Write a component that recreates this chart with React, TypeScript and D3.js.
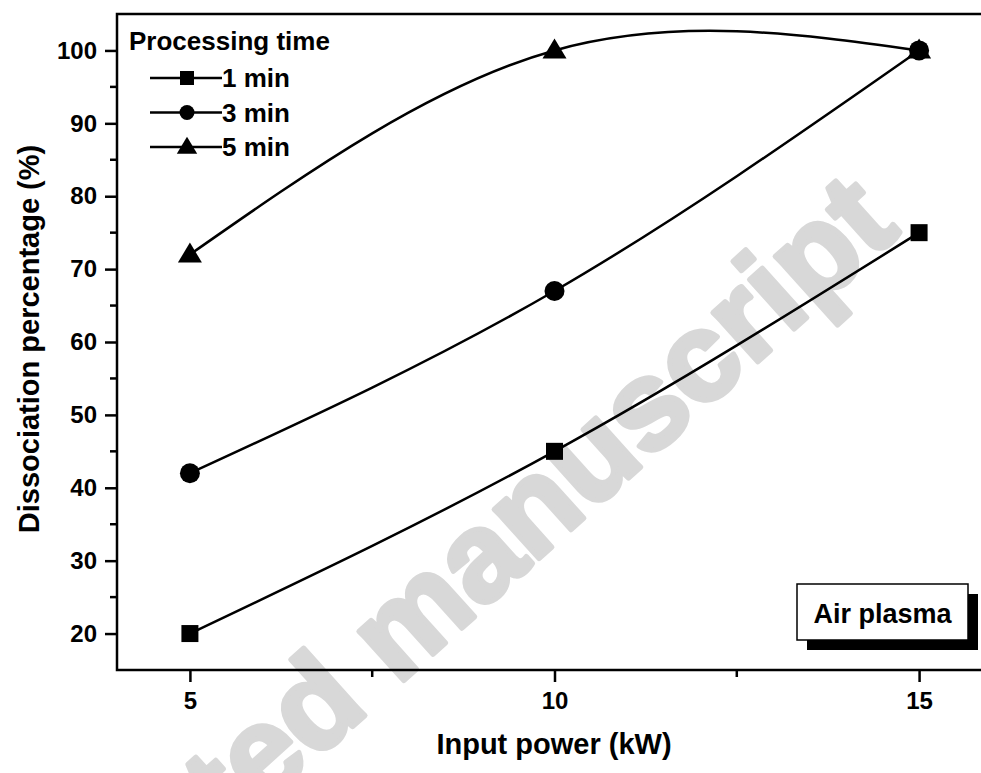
import React, { useRef, useEffect } from "react";
import * as d3 from "d3";

const powers = [5, 10, 15];
const seriesNames = ["1 min", "3 min", "5 min"];
const min1 = [20, 45, 75];
const min3 = [42, 67, 100];
const min5 = [72, 100, 100];
const yTicks = [20, 30, 40, 50, 60, 70, 80, 90, 100];
const yMinorTicks = [25, 35, 45, 55, 65, 75, 85, 95];
const xTicks = [5, 10, 15];
const xMinorTicks = [7.5, 12.5];

const FONT = "'Liberation Sans', Arial, Helvetica, sans-serif";
const W = 981;
const H = 773;

type Shape = "square" | "circle" | "triangle";
const shapes: Shape[] = ["square", "circle", "triangle"];

const drawMarker = (
  g: d3.Selection<SVGGElement, unknown, null, undefined>,
  shape: Shape,
  cx: number,
  cy: number,
  size: number,
) => {
  if (shape === "square") {
    g.append("rect")
      .attr("x", cx - size / 2)
      .attr("y", cy - size / 2)
      .attr("width", size)
      .attr("height", size)
      .attr("fill", "#000");
  } else if (shape === "circle") {
    g.append("circle").attr("cx", cx).attr("cy", cy).attr("r", size / 2).attr("fill", "#000");
  } else {
    const w = size * 1.2;
    const h = size;
    g.append("path")
      .attr("d", `M${cx},${cy - h * 0.6}L${cx + w / 2},${cy + h * 0.4}L${cx - w / 2},${cy + h * 0.4}Z`)
      .attr("fill", "#000");
  }
};

const Chart: React.FC = () => {
  const ref = useRef<SVGSVGElement | null>(null);

  useEffect(() => {
    const svg = d3.select(ref.current);
    svg.selectAll("*").remove();
    svg.attr("width", W).attr("height", H);

    const left = 117;
    const right = 992;
    const top = 14;
    const bottom = 670;

    const x = d3.scaleLinear().domain([4, 16]).range([left, right]);
    const y = d3.scaleLinear().domain([15, 105]).range([bottom, top]);

    const root = svg.append("g");

    // Watermark behind everything (partly off the page, as in the original)
    root
      .append("text")
      .attr("transform", "translate(902,232) rotate(-42)")
      .attr("text-anchor", "end")
      .attr("fill", "#d8d8d8")
      .attr("stroke", "#d8d8d8")
      .attr("stroke-width", 5)
      .attr("stroke-linejoin", "round")
      .style("font-family", FONT)
      .style("font-weight", "bold")
      .style("font-size", "126px")
      .text("Accepted manuscript");

    // Frame
    root
      .append("rect")
      .attr("x", left)
      .attr("y", top)
      .attr("width", right - left)
      .attr("height", bottom - top)
      .attr("fill", "none")
      .attr("stroke", "#000")
      .attr("stroke-width", 2.5);

    // Y axis
    const yAxis = root
      .append("g")
      .attr("transform", `translate(${left},0)`)
      .call(d3.axisLeft(y).tickValues(yTicks).tickSize(12).tickPadding(8).tickSizeOuter(0));
    yAxis.select(".domain").remove();
    yAxis.selectAll("line").attr("stroke-width", 2.5);
    yAxis
      .selectAll("text")
      .style("font-family", FONT)
      .style("font-weight", "bold")
      .style("font-size", "24px")
      .attr("fill", "#000");
    root
      .append("g")
      .selectAll("line")
      .data(yMinorTicks)
      .enter()
      .append("line")
      .attr("x1", left - 7)
      .attr("x2", left)
      .attr("y1", (d) => y(d))
      .attr("y2", (d) => y(d))
      .attr("stroke", "#000")
      .attr("stroke-width", 2.5);

    // X axis
    const xAxis = root
      .append("g")
      .attr("transform", `translate(0,${bottom})`)
      .call(d3.axisBottom(x).tickValues(xTicks).tickSize(12).tickPadding(10).tickSizeOuter(0));
    xAxis.select(".domain").remove();
    xAxis.selectAll("line").attr("stroke-width", 2.5);
    xAxis
      .selectAll("text")
      .style("font-family", FONT)
      .style("font-weight", "bold")
      .style("font-size", "24px")
      .attr("fill", "#000");
    root
      .append("g")
      .selectAll("line")
      .data(xMinorTicks)
      .enter()
      .append("line")
      .attr("x1", (d) => x(d))
      .attr("x2", (d) => x(d))
      .attr("y1", bottom)
      .attr("y2", bottom + 7)
      .attr("stroke", "#000")
      .attr("stroke-width", 2.5);

    // Axis titles
    root
      .append("text")
      .attr("x", 554)
      .attr("y", 754)
      .attr("text-anchor", "middle")
      .style("font-family", FONT)
      .style("font-weight", "bold")
      .style("font-size", "29px")
      .text("Input power (kW)");
    root
      .append("text")
      .attr("transform", "translate(39,339) rotate(-90)")
      .attr("text-anchor", "middle")
      .style("font-family", FONT)
      .style("font-weight", "bold")
      .style("font-size", "29px")
      .text("Dissociation percentage (%)");

    // Series
    const allSeries = [min1, min3, min5];
    const line = d3
      .line<number>()
      .x((_, i) => x(powers[i]))
      .y((d) => y(d))
      .curve(d3.curveNatural);

    const markerSize = [17, 20, 20];
    allSeries.forEach((vals, si) => {
      root
        .append("path")
        .datum(vals)
        .attr("fill", "none")
        .attr("stroke", "#000")
        .attr("stroke-width", 2.5)
        .attr("d", line);
      const mg = root.append("g");
      vals.forEach((v, i) => drawMarker(mg, shapes[si], x(powers[i]), y(v), markerSize[si]));
    });

    // Legend
    const lg = root.append("g");
    lg.append("text")
      .attr("x", 129)
      .attr("y", 50)
      .style("font-family", FONT)
      .style("font-weight", "bold")
      .style("font-size", "26px")
      .text("Processing time");
    const legendMarker = [14, 15, 17];
    seriesNames.forEach((name, i) => {
      const cy = 78 + i * 34.5;
      lg.append("line")
        .attr("x1", 150)
        .attr("x2", 222)
        .attr("y1", cy)
        .attr("y2", cy)
        .attr("stroke", "#000")
        .attr("stroke-width", 2.5);
      drawMarker(lg, shapes[i], 187, cy, legendMarker[i]);
      lg.append("text")
        .attr("x", 222)
        .attr("y", cy + 9)
        .style("font-family", FONT)
        .style("font-weight", "bold")
        .style("font-size", "26px")
        .text(name);
    });

    // Air plasma box with shadow
    const bx = 797;
    const by = 584;
    const bw = 171;
    const bh = 56;
    root.append("rect").attr("x", bx + 10).attr("y", by + 10).attr("width", bw).attr("height", bh).attr("fill", "#000");
    root
      .append("rect")
      .attr("x", bx)
      .attr("y", by)
      .attr("width", bw)
      .attr("height", bh)
      .attr("fill", "#fff")
      .attr("stroke", "#000")
      .attr("stroke-width", 1.5);
    root
      .append("text")
      .attr("x", bx + bw / 2)
      .attr("y", 623)
      .attr("text-anchor", "middle")
      .style("font-family", FONT)
      .style("font-weight", "bold")
      .style("font-size", "27px")
      .text("Air plasma");
  }, []);

  return <svg ref={ref} style={{ position: "absolute", left: 0, top: 0, display: "block" }} />;
};

export default function App() {
  return <Chart />;
}
